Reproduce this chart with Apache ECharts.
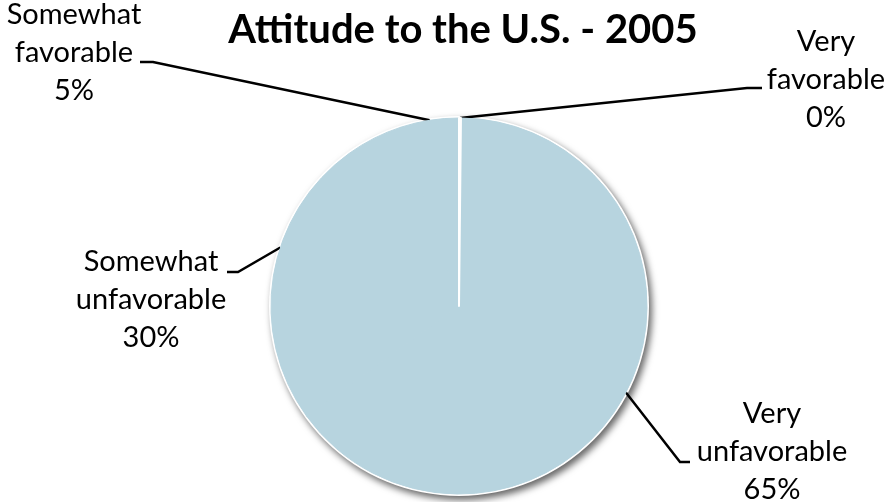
<!DOCTYPE html>
<html>
<head>
<meta charset="utf-8">
<script src="https://cdn.jsdelivr.net/npm/echarts@6/dist/echarts.min.js"></script>
<style>
  html, body { margin: 0; padding: 0; background: #fff; }
  #chart { width: 892px; height: 502px; }
</style>
</head>
<body>
<div id="chart"></div>
<script>
// ---- data ----
const categories = ['Very favorable', 'Very unfavorable', 'Somewhat unfavorable', 'Somewhat favorable'];
const shares = [0, 65, 30, 5];
const chartTitle = 'Attitude to the U.S. - 2005';

// ---- layout (label placement, Excel style) ----
const labelSpots = [
  { x: 826, y: 80,  ex: -64, ey: 8,   h: -15 },
  { x: 772, y: 452, ex: -82, ey: 10,  h: -10 },
  { x: 151, y: 300, ex: 76,  ey: -28, h: 11 },
  { x: 74,  y: 53,  ex: 66,  ey: 9,   h: 13 }
];

const FILL = '#B7D4DF';
const FONT = 'Lato, "Open Sans", sans-serif';
const pieCenter = [459, 306];
const pieRadius = 188;

const total = shares.reduce((a, b) => a + b, 0);
const pieData = categories.map((name, i) => ({ name: name, value: shares[i] }));

const chart = echarts.init(document.getElementById('chart'), null, { renderer: 'canvas' });

chart.setOption({
  animation: false,
  backgroundColor: '#fff',
  title: {
    text: chartTitle,
    left: 458,
    textAlign: 'center',
    top: 5,
    textStyle: { fontFamily: FONT, fontWeight: 'bold', fontSize: 40, color: '#000' }
  },
  series: [
    {
      // white rim + soft shadow behind the pie
      type: 'pie',
      silent: true,
      z: 1,
      center: pieCenter,
      radius: pieRadius + 2,
      label: { show: false },
      labelLine: { show: false },
      itemStyle: {
        color: '#fff',
        shadowBlur: 7,
        shadowColor: 'rgba(0,0,0,0.6)',
        shadowOffsetX: 3,
        shadowOffsetY: 4
      },
      data: [{ value: total, name: '' }]
    },
    {
      type: 'pie',
      z: 2,
      center: pieCenter,
      radius: pieRadius,
      startAngle: 90,
      clockwise: true,
      minAngle: 0.6,
      avoidLabelOverlap: false,
      itemStyle: { color: FILL, borderColor: FILL, borderWidth: 1 },
      label: {
        show: true,
        position: 'outside',
        fontFamily: FONT,
        fontSize: 29,
        lineHeight: 38,
        color: '#000',
        align: 'center',
        formatter: function (p) {
          return p.name.replace(' ', '\n') + '\n' + Math.round(p.percent) + '%';
        }
      },
      labelLine: {
        show: true,
        lineStyle: { color: '#000', width: 2.5 }
      },
      labelLayout: function (params) {
        const s = labelSpots[params.dataIndex];
        const p0 = params.labelLinePoints ? params.labelLinePoints[0].slice() : [s.x, s.y];
        const p2 = [s.x + s.ex, s.y + s.ey];
        const p1 = [p2[0] + s.h, p2[1]];
        return {
          x: s.x,
          y: s.y,
          align: 'center',
          verticalAlign: 'middle',
          labelLinePoints: [p0, p1, p2]
        };
      },
      data: pieData
    },
    {
      // overlay: white edge of the zero-valued slice, drawn above the others
      type: 'pie',
      silent: true,
      z: 3,
      center: pieCenter,
      radius: pieRadius,
      startAngle: 90,
      clockwise: true,
      minAngle: 0.6,
      label: { show: false },
      labelLine: { show: false },
      itemStyle: { color: 'rgba(0,0,0,0)', borderWidth: 0 },
      data: pieData.map(d => d.value === 0
        ? { name: d.name, value: d.value, itemStyle: { color: '#fff', borderColor: '#fff', borderWidth: 2 } }
        : { name: d.name, value: d.value })
    }
  ]
});
</script>
</body>
</html>
